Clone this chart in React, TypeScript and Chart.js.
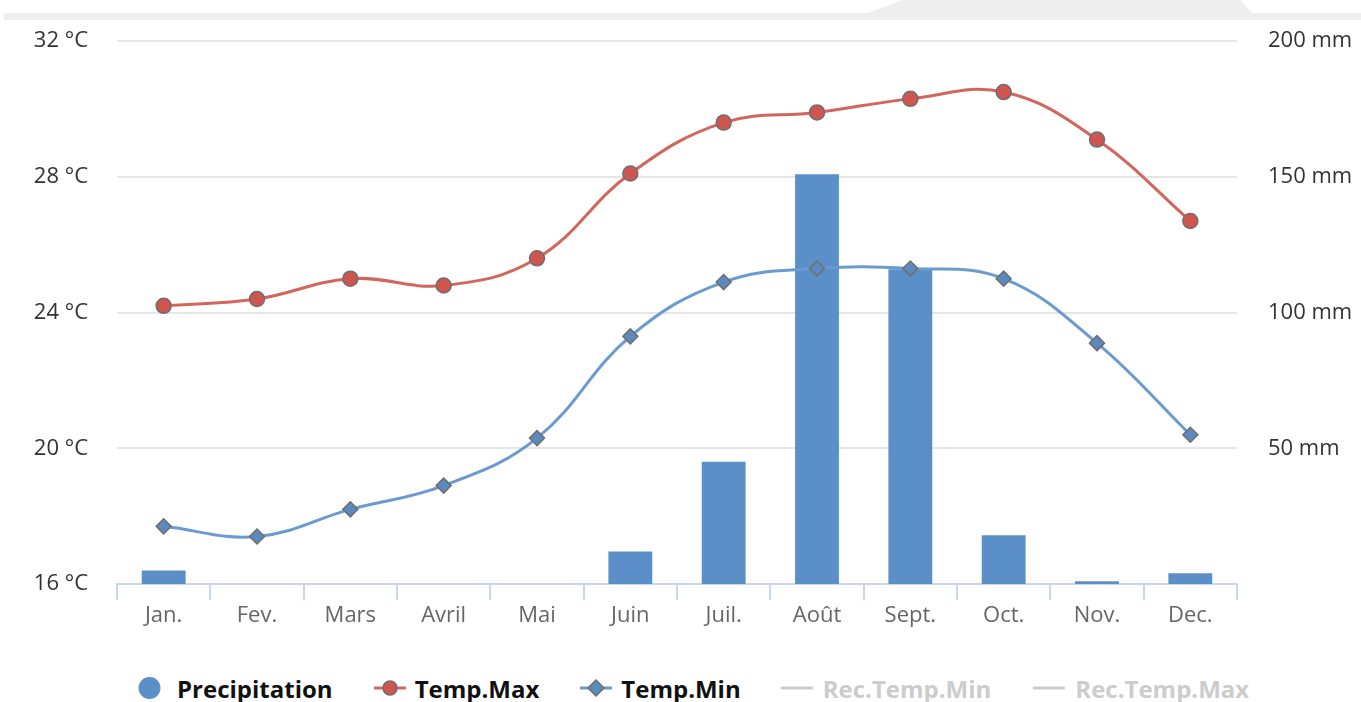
import React, { useEffect, useRef } from "react";
import { Chart, registerables } from "chart.js";

Chart.register(...registerables);

const categories = ["Jan.", "Fev.", "Mars", "Avril", "Mai", "Juin", "Juil.", "Août", "Sept.", "Oct.", "Nov.", "Dec."];
const precipitation = [5, 0, 0, 0, 0, 12, 45, 151, 116, 18, 1, 4];
const tempMax = [24.2, 24.4, 25.0, 24.8, 25.6, 28.1, 29.6, 29.9, 30.3, 30.5, 29.1, 26.7];
const tempMin = [17.7, 17.4, 18.2, 18.9, 20.3, 23.3, 24.9, 25.3, 25.3, 25.0, 23.1, 20.4];
const tempRange = [16, 32];
const tempStep = 4;
const precipRange = [0, 200];
const precipStep = 50;

const BAR = "#5b8fc7";
const RED_LINE = "#d2665c";
const RED_POINT = "#cf564e";
const BLUE_LINE = "#6a9bd0";
const BLUE_POINT = "#5b8ac0";
const FONT = "'Open Sans', 'DejaVu Sans', sans-serif";

function LegendItem({ icon, label, color, gap, after }: { icon: React.ReactNode; label: string; color: string; gap: number; after: number }) {
  return (
    <div style={{ display: "flex", alignItems: "center", marginRight: after }}>
      {icon}
      <span style={{ fontFamily: FONT, fontWeight: 700, fontSize: 24, color, marginLeft: gap, whiteSpace: "nowrap" }}>{label}</span>
    </div>
  );
}

export default function App() {
  const ref = useRef<HTMLCanvasElement | null>(null);

  useEffect(() => {
    if (!ref.current) return;
    const chart = new Chart(ref.current, {
      type: "bar",
      data: {
        labels: categories,
        datasets: [
          {
            type: "line",
            label: "Temp.Max",
            data: tempMax,
            yAxisID: "yT",
            borderColor: RED_LINE,
            borderWidth: 3,
            tension: 0.4,
            pointStyle: "circle",
            pointRadius: 7.5,
            pointBackgroundColor: RED_POINT,
            pointBorderColor: "#6e6e6e",
            pointBorderWidth: 1.5,
            order: 1,
          },
          {
            type: "line",
            label: "Temp.Min",
            data: tempMin,
            yAxisID: "yT",
            borderColor: BLUE_LINE,
            borderWidth: 3,
            tension: 0.4,
            pointStyle: "rectRot",
            pointRadius: 7.5,
            pointBackgroundColor: BLUE_POINT,
            pointBorderColor: "#6e6e6e",
            pointBorderWidth: 1.5,
            order: 2,
          },
          {
            type: "bar",
            label: "Precipitation",
            data: precipitation,
            yAxisID: "yP",
            backgroundColor: BAR,
            barPercentage: 0.47,
            categoryPercentage: 1,
            order: 3,
          },
        ],
      },
      options: {
        animation: false,
        responsive: false,
        maintainAspectRatio: false,
        layout: { padding: { top: 41, left: 0, right: 0, bottom: 0 } },
        plugins: { legend: { display: false }, tooltip: { enabled: false } },
        scales: {
          x: {
            offset: true,
            grid: {
              offset: true,
              drawOnChartArea: false,
              drawTicks: true,
              tickLength: 16,
              color: "#ccd6eb",
              lineWidth: 2,
            },
            border: { color: "#ccd6eb", width: 2 },
            ticks: { color: "#666666", font: { family: FONT, size: 22 }, padding: 3 },
            afterFit: (s: any) => {
              s.height = 56;
            },
          },
          yT: {
            position: "left",
            min: tempRange[0],
            max: tempRange[1],
            ticks: {
              stepSize: tempStep,
              color: "#333333",
              font: { family: FONT, size: 22 },
              padding: 29,
              callback: (v: any) => `${v} °C`,
            },
            grid: { color: "#e6e6e6", lineWidth: 2, drawTicks: false },
            border: { display: false },
            afterFit: (s: any) => {
              s.width = 117;
            },
          },
          yP: {
            position: "right",
            min: precipRange[0],
            max: precipRange[1],
            ticks: {
              stepSize: precipStep,
              color: "#333333",
              font: { family: FONT, size: 22 },
              padding: 31,
              callback: (v: any) => (v === 0 ? "" : `${v} mm`),
            },
            grid: { display: false, drawTicks: false },
            border: { display: false },
            afterFit: (s: any) => {
              s.width = 124;
            },
          },
        },
      },
    } as any);
    return () => chart.destroy();
  }, []);

  const grey = "#cccccc";
  return (
    <div style={{ position: "absolute", left: 0, top: 0, width: 1361, height: 702, background: "#fff", overflow: "hidden" }}>
      <div style={{ position: "absolute", left: 4, right: 0, top: 13, height: 7, background: "#eeeeee" }} />
      <div
        style={{
          position: "absolute",
          left: 868,
          top: 0,
          width: 384,
          height: 13,
          background: "#eeeeee",
          clipPath: "polygon(9% 0, 97% 0, 100% 100%, 0 100%)",
        }}
      />
      <canvas ref={ref} width={1361} height={643} style={{ position: "absolute", left: 0, top: -3, width: 1361, height: 643 }} />
      <div style={{ position: "absolute", left: 138, top: 670, height: 36, display: "flex", alignItems: "center" }}>
        <LegendItem
          color="#111"
          label="Precipitation"
          gap={16}
          after={41}
          icon={
            <svg width="23" height="24">
              <circle cx="11.5" cy="12" r="11" fill={BAR} />
            </svg>
          }
        />
        <LegendItem
          color="#111"
          label="Temp.Max"
          gap={9}
          after={41}
          icon={
            <svg width="32" height="20">
              <line x1="0" y1="10" x2="32" y2="10" stroke={RED_LINE} strokeWidth="3" />
              <circle cx="16" cy="10" r="7" fill={RED_POINT} stroke="#6e6e6e" strokeWidth="1.5" />
            </svg>
          }
        />
        <LegendItem
          color="#111"
          label="Temp.Min"
          gap={9}
          after={40}
          icon={
            <svg width="32" height="20">
              <line x1="0" y1="10" x2="32" y2="10" stroke={BLUE_LINE} strokeWidth="3" />
              <polygon points="16,2 24,10 16,18 8,10" fill={BLUE_POINT} stroke="#6e6e6e" strokeWidth="1.5" />
            </svg>
          }
        />
        <LegendItem
          color={grey}
          label="Rec.Temp.Min"
          gap={10}
          after={42}
          icon={
            <svg width="32" height="20">
              <line x1="0" y1="10" x2="32" y2="10" stroke={grey} strokeWidth="3" />
            </svg>
          }
        />
        <LegendItem
          color={grey}
          label="Rec.Temp.Max"
          gap={10}
          after={0}
          icon={
            <svg width="32" height="20">
              <line x1="0" y1="10" x2="32" y2="10" stroke={grey} strokeWidth="3" />
            </svg>
          }
        />
      </div>
    </div>
  );
}
